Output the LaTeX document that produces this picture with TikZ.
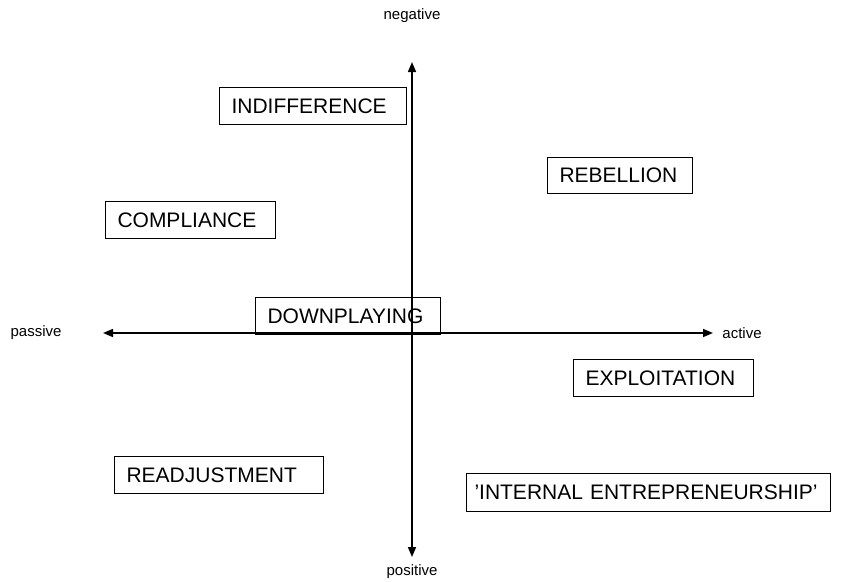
\documentclass[tikz,border=0pt]{standalone}
\usepackage{fontspec}
\setmainfont{Liberation Sans}
\usetikzlibrary{arrows.meta}

\begin{document}
\begin{tikzpicture}[
    x=1pt, y=-1pt,
    >={Triangle[length=10pt,width=8pt]},
    quadbox/.style={draw, line width=1pt, anchor=north west, inner xsep=12pt, inner ysep=0pt,
                minimum height=37pt, align=left, font=\fontsize{21}{24}\selectfont, text width=#1},
    axislabel/.style={font=\fontsize{15}{18}\selectfont, inner sep=0pt},
    axis/.style={<->, line width=1.5pt},
  ]
  \useasboundingbox (0,0) rectangle (846,581);

  % --- Axis end points ---
  \coordinate (ytop)   at (412, 62);
  \coordinate (ybot)   at (412,557);
  \coordinate (xleft)  at (103,333);
  \coordinate (xright) at (713,333);

  % --- Axis labels ---
  \node[axislabel] (neg) at (412, 16) {negative};
  \node[axislabel] (pos) at (412,572) {positive};
  \node[axislabel] (pas) at ( 36,333) {passive};
  \node[axislabel] (act) at (742,333) {active};

  % --- Axes ---
  \draw[axis] (ybot) -- (ytop);
  \draw[axis] (xleft) -- (xright);

  % --- Strategy boxes ---
  \node[quadbox=163] (indiff)  at (219, 87) {INDIFFERENCE};
  \node[quadbox=121, minimum height=36pt] (rebel) at (547,157) {REBELLION};
  \node[quadbox=146] (compl)   at (105,201) {COMPLIANCE};
  \node[quadbox=161] (down)    at (255,297) {DOWNPLAYING};
  \node[quadbox=156] (exploit) at (573,359) {EXPLOITATION};
  \node[quadbox=185] (readj)   at (114,456) {READJUSTMENT};
  \node[quadbox=348, inner xsep=8pt, minimum height=38pt] (entre) at (466,473) {'INTERNAL ENTREPRENEURSHIP'};
\end{tikzpicture}
\end{document}
